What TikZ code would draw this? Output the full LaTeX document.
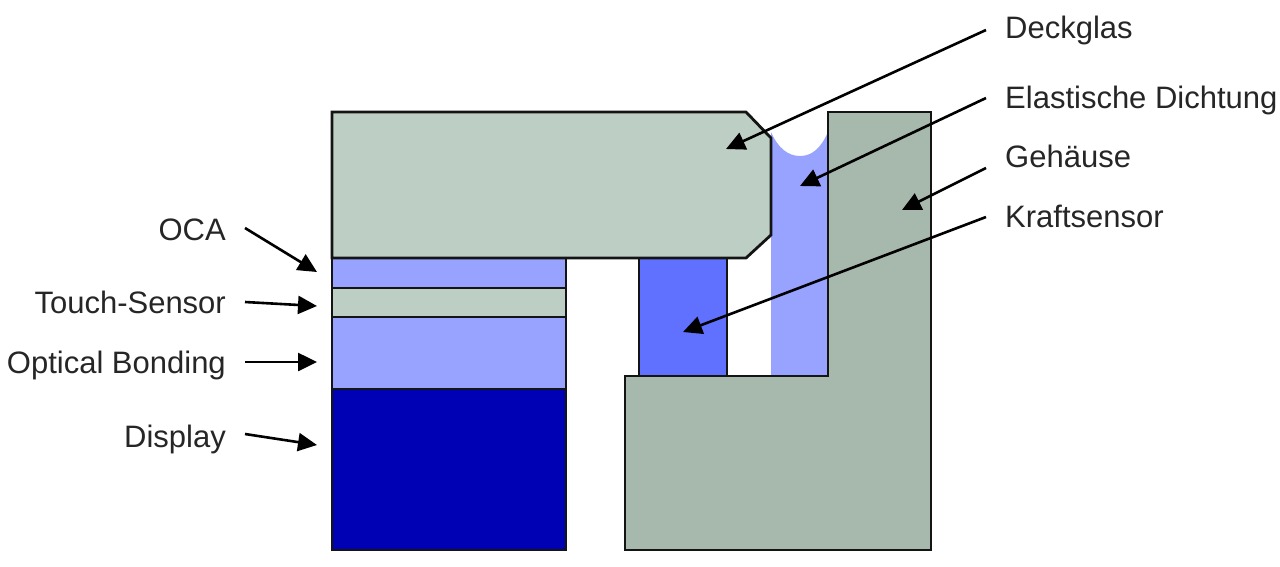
\documentclass[tikz,border=0pt]{standalone}
\usepackage{fontspec}
\setmainfont{Liberation Sans}
\usetikzlibrary{arrows.meta}
\definecolor{glas}{HTML}{BDCFC4}
\definecolor{gehaeuse}{HTML}{A7B8AC}
\definecolor{hell}{HTML}{98A2FF}
\definecolor{kraft}{HTML}{6070FF}
\definecolor{disp}{HTML}{0000B4}
\tikzset{
  part/.style={draw=black!92,line width=2.8pt,line join=miter},
  layer/.style={part,inner sep=0pt,outer sep=0pt,anchor=north west},
  lab/.style={font=\fontsize{31}{31}\selectfont,inner sep=0pt,text=black!85},
  labL/.style={lab,anchor=base east},
  labR/.style={lab,anchor=base west},
  arr/.style={draw=black,line width=2.6pt,-{Triangle[length=19pt,width=18pt]}},
}
\begin{document}
\begin{tikzpicture}[x=1pt,y=-1pt]
\useasboundingbox (0,0) rectangle (1280,566);
% seal (no outline of its own)
\fill[hell] (771,132) .. controls (778,148) and (788,156) .. (800,156) .. controls (812,156) and (821,148) .. (828,132) -- (828,376) -- (771,376) -- cycle;
% layers
\node[layer,fill=hell,minimum width=234pt,minimum height=30pt] (oca) at (332,258) {};
\node[layer,fill=glas,minimum width=234pt,minimum height=29pt] (touch) at (332,288) {};
\node[layer,fill=hell,minimum width=234pt,minimum height=72pt] (bond) at (332,317) {};
\node[layer,fill=disp,minimum width=234pt,minimum height=161pt] (display) at (332,389) {};
\node[layer,fill=kraft,minimum width=88pt,minimum height=118pt] (sensor) at (639,258) {};
\draw[part,fill=glas] (332,112) -- (746,112) -- (771,138) -- (771,235) -- (746,258) -- (332,258) -- cycle;
\draw[part,fill=gehaeuse] (828,112) -- (931,112) -- (931,550) -- (625,550) -- (625,376) -- (828,376) -- cycle;
% labels
\node[labL] (lOca) at (226,240) {OCA};
\node[labL] (lTouch) at (226,313) {Touch-Sensor};
\node[labL] (lBond) at (226,373) {Optical Bonding};
\node[labL] (lDisp) at (226,447) {Display};
\node[labR] (lDeck) at (1005,38) {Deckglas};
\node[labR] (lDicht) at (1005,108) {Elastische Dichtung};
\node[labR] (lGeh) at (1005,167) {Gehäuse};
\node[labR] (lKraft) at (1005,227) {Kraftsensor};
% arrow ends
\coordinate (sOca) at (245,228); \coordinate (eOca) at (317,272);
\coordinate (sTouch) at (245,302); \coordinate (eTouch) at (317,306);
\coordinate (sBond) at (245,362); \coordinate (eBond) at (317,362);
\coordinate (sDisp) at (245,434); \coordinate (eDisp) at (317,445);
\coordinate (sDeck) at (986,30); \coordinate (eDeck) at (726,149);
\coordinate (sDicht) at (986,98); \coordinate (eDicht) at (800,186);
\coordinate (sGeh) at (986,168); \coordinate (eGeh) at (902,210);
\coordinate (sKraft) at (986,217); \coordinate (eKraft) at (683,332);
\foreach \n in {Oca,Touch,Bond,Disp,Deck,Dicht,Geh,Kraft}
  \draw[arr] (s\n) -- (e\n);
\end{tikzpicture}
\end{document}
